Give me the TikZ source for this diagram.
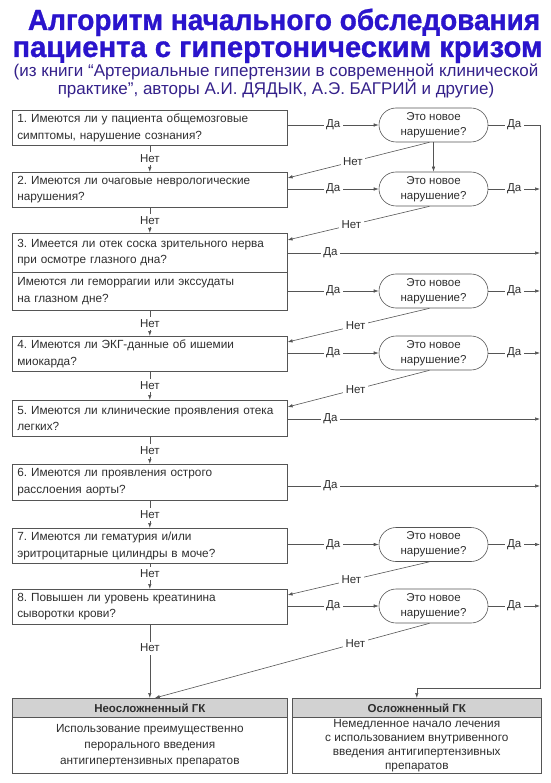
\documentclass[tikz,border=0pt]{standalone}
\usepackage{fontspec}
\setmainfont{Liberation Sans}
\newfontfamily\titlefont[BoldFeatures={FakeBold=1.1}]{Liberation Sans}
\usetikzlibrary{shapes.misc,arrows.meta}
\definecolor{titleblue}{HTML}{2A14CC}
\definecolor{subpurple}{HTML}{34208A}
\definecolor{ln}{HTML}{555555}
\definecolor{txt}{HTML}{2E2E2E}
\definecolor{hdr}{HTML}{D2D2D2}
\frenchspacing
\begin{document}
\begin{tikzpicture}[x=1pt,y=-1pt,
  qbox/.style={draw=ln, line width=0.6pt, rectangle, anchor=north west,
    minimum width=275pt, text width=265pt, align=left, inner xsep=5pt, inner ysep=2pt,
    font=\fontsize{11.8}{16.5}\selectfont, text=txt},
  oval/.style={draw=ln, line width=0.6pt, rounded rectangle, minimum width=111pt,
    minimum height=34pt, inner sep=1pt, align=center,
    font=\fontsize{11.5}{15}\selectfont, text=txt},
  conn/.style={draw=ln, line width=0.6pt},
  arr/.style={conn, -{Latex[length=5pt,width=3.5pt]}},
  lbl/.style={fill=white, inner sep=2.5pt, font=\fontsize{11.5}{12}\selectfont, text=txt},
  hbox/.style={draw=ln, line width=0.6pt, fill=hdr, anchor=north west, minimum height=19pt,
    inner sep=0pt, font=\fontsize{11.5}{12}\selectfont\bfseries, text=txt},
  bbox/.style={draw=ln, line width=0.6pt, anchor=north west, minimum height=56pt,
    inner sep=0pt, align=center, text=txt},
  ttl/.style={font=\fontsize{28}{30}\titlefont\bfseries, text=titleblue, inner sep=0pt},
  sub/.style={font=\fontsize{17}{18}\selectfont, text=subpurple, inner sep=0pt}
]
\useasboundingbox (0,0) rectangle (550,783);

% question boxes
\node[qbox, minimum height=35pt] (b1) at (12,110) {1. Имеются ли у пациента общемозговые\\симптомы, нарушение сознания?};
\node[qbox, minimum height=35pt] (b2) at (12,172) {2. Имеются ли очаговые неврологические\\нарушения?};
\node[qbox, minimum height=39pt] (b3a) at (12,233) {3. Имеется ли отек соска зрительного нерва\\при осмотре глазного дна?};
\node[qbox, minimum height=38pt] (b3b) at (12,272) {Имеются ли геморрагии или экссудаты\\на глазном дне?};
\node[qbox, minimum height=35pt] (b4) at (12,336) {4. Имеются ли ЭКГ-данные об ишемии\\миокарда?};
\node[qbox, minimum height=36pt] (b5) at (12,400) {5. Имеются ли клинические проявления отека\\легких?};
\node[qbox, minimum height=36pt] (b6) at (12,464) {6. Имеются ли проявления острого\\расслоения аорты?};
\node[qbox, minimum height=35pt] (b7) at (12,528) {7. Имеются ли гематурия и/или\\эритроцитарные цилиндры в моче?};
\node[qbox, minimum height=35pt] (b8) at (12,589) {8. Повышен ли уровень креатинина\\сыворотки крови?};

% ovals
\node[oval] (o1) at (433.5,125) {Это новое\\нарушение?};
\node[oval] (o2) at (433.5,189) {Это новое\\нарушение?};
\node[oval] (o3) at (433.5,291) {Это новое\\нарушение?};
\node[oval] (o4) at (433.5,353) {Это новое\\нарушение?};
\node[oval] (o7) at (433.5,544.5) {Это новое\\нарушение?};
\node[oval] (o8) at (433.5,606) {Это новое\\нарушение?};

% result boxes
\node[hbox, minimum width=275pt] (lh) at (12,698) {Неосложненный ГК};
\node[bbox, minimum width=275pt, font=\fontsize{11.8}{16}\selectfont] (lb) at (12,717) {Использование преимущественно\\перорального введения\\антигипертензивных препаратов};
\node[hbox, minimum width=249pt] (rh) at (292,698) {Осложненный ГК};
\node[bbox, minimum width=249pt, font=\fontsize{11.8}{14}\selectfont] (rb) at (292,717) {Немедленное начало лечения\\с использованием внутривенного\\введения антигипертензивных\\препаратов};

% right collector line
\coordinate (vt) at (540,125);
\coordinate (vb) at (540,688);

% main "Нет" flow
\draw[arr] (b1.south) -- node[lbl]{Нет} (b2.north);
\draw[arr] (b2.south) -- node[lbl]{Нет} (b3a.north);
\draw[arr] (b3b.south) -- node[lbl]{Нет} (b4.north);
\draw[arr] (b4.south) -- node[lbl]{Нет} (b5.north);
\draw[arr] (b5.south) -- node[lbl]{Нет} (b6.north);
\draw[arr] (b6.south) -- node[lbl]{Нет} (b7.north);
\draw[arr] (b7.south) -- node[lbl,pos=0.38]{Нет} (b8.north);
\draw[arr] (b8.south) -- node[lbl,pos=0.32]{Нет} (lh.north);

% boxes -> ovals
\draw[arr] (b1.east |- o1) -- node[lbl]{Да} (o1.west);
\draw[arr] (b2.east |- o2) -- node[lbl]{Да} (o2.west);
\draw[arr] (b3b.east |- o3) -- node[lbl]{Да} (o3.west);
\draw[arr] (b4.east |- o4) -- node[lbl]{Да} (o4.west);
\draw[arr] (b7.east |- o7) -- node[lbl]{Да} (o7.west);
\draw[arr] (b8.east |- o8) -- node[lbl]{Да} (o8.west);

% boxes -> collector directly
\draw[arr] ([yshift=-20pt]b3a.north east) -- node[lbl,pos=0.17]{Да} ([yshift=-20pt]b3a.north east -| vt);
\draw[arr] ([yshift=-19pt]b5.north east) -- node[lbl,pos=0.17]{Да} ([yshift=-19pt]b5.north east -| vt);
\draw[arr] ([yshift=-22pt]b6.north east) -- node[lbl,pos=0.17]{Да} ([yshift=-22pt]b6.north east -| vt);

% ovals -> collector
\draw[arr] (o1.east) -- node[lbl]{Да} (vt) -- (vb) -- (vb -| rh.north) -- (rh.north);
\draw[arr] (o2.east) -- node[lbl]{Да} (o2.east -| vt);
\draw[arr] (o3.east) -- node[lbl]{Да} (o3.east -| vt);
\draw[arr] (o4.east) -- node[lbl]{Да} (o4.east -| vt);
\draw[arr] (o7.east) -- node[lbl]{Да} (o7.east -| vt);
\draw[arr] (o8.east) -- node[lbl]{Да} (o8.east -| vt);

% oval1 -> oval2
\draw[arr] (o1.south) -- (o2.north);

% ovals "Нет" back to next question
\draw[arr] ([xshift=-4pt]o1.south) -- node[lbl,pos=0.54]{Нет} ([yshift=-6pt]b2.north east);
\draw[arr] ([xshift=-4pt]o2.south) -- node[lbl,pos=0.55]{Нет} ([yshift=-7pt]b3a.north east);
\draw[arr] ([xshift=-4pt]o3.south) -- node[lbl,pos=0.52]{Нет} ([yshift=-6pt]b4.north east);
\draw[arr] ([xshift=-4pt]o4.south) -- node[lbl,pos=0.52]{Нет} ([yshift=-7pt]b5.north east);
\draw[arr] ([xshift=-4pt]o7.south) -- node[lbl,pos=0.55]{Нет} ([yshift=-6pt]b8.north east);
\draw[arr] ([xshift=-4pt]o8.south) -- node[lbl,pos=0.27]{Нет} ([xshift=5pt]lh.north);

% titles (drawn last)
\node[sub, anchor=base] (t3) at (276,77) {(из книги “Артериальные гипертензии в современной клинической};
\node[sub, anchor=base] (t4) at (276,95) {практике”, авторы А.И. ДЯДЫК, А.Э. БАГРИЙ и другие)};
\node[ttl, anchor=base] (t1) at (284,30) {\scalebox{1}[1.04]{Алгоритм начального обследования}};
\node[ttl, anchor=base] (t2) at (277.5,57) {\scalebox{1.043}[1.04]{пациента с гипертоническим кризом}};
\end{tikzpicture}
\end{document}
